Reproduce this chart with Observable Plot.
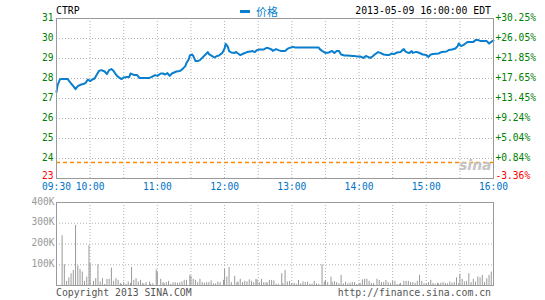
<!DOCTYPE html>
<html><head><meta charset="utf-8">
<script src="https://cdn.jsdelivr.net/npm/d3@7"></script>
<script src="https://cdn.jsdelivr.net/npm/@observablehq/plot@0.6"></script>
<style>
body{margin:0;background:#fff;}
#wrap{position:relative;width:545px;height:300px;overflow:hidden;font-family:"DejaVu Sans Mono",monospace;font-size:9.8px;background:#fff;}
.t{position:absolute;white-space:nowrap;line-height:12px;}
</style></head><body><div id="wrap"></div>
<script>
// ---- data ----
const symbol = "CTRP";
const stamp = "2013-05-09 16:00:00 EDT";
const prevClose = 23.80;
// minutes after 09:30 and price
const priceMin = [0,1,3,4,10,13,15,17,19,22,24,26,28,30,32,34,36,38,40,43,45,47,49,51,53,55,58,60,63,65,66,69,72,74,83,85,88,90,93,95,97,99,101,103,105,107,110,112,115,116,118,119,121,122,124,126,128,130,133,135,136,139,141,143,145,148,150,151,153,154,156,159,160,162,164,167,170,173,175,177,179,181,185,187,189,192,193,196,198,200,204,206,208,211,213,234,235,237,240,243,246,248,250,252,254,257,260,264,266,268,271,274,276,278,280,282,284,287,289,292,295,297,299,301,304,307,308,310,311,313,315,317,318,321,323,325,327,330,332,334,336,341,344,348,350,353,356,358,359,361,363,365,367,372,374,376,378,382,384,386,388,389,390];
const priceVal = [27.33,27.67,27.95,27.97,27.97,27.75,27.62,27.47,27.62,27.70,27.72,27.78,27.95,27.87,27.95,28.00,28.20,28.38,28.42,28.35,28.22,28.42,28.47,28.37,28.20,28.08,27.97,28.05,28.07,28.08,28.25,28.18,28.17,28.03,28.03,28.08,28.17,28.13,28.25,28.25,28.20,28.27,28.13,28.25,28.30,28.35,28.37,28.45,28.62,28.78,28.95,29.15,29.20,29.13,28.88,28.87,28.92,29.03,29.20,29.32,29.22,29.12,29.05,29.12,29.15,29.28,29.50,29.74,29.58,29.37,29.30,29.28,29.33,29.25,29.17,29.25,29.32,29.35,29.37,29.32,29.42,29.45,29.45,29.52,29.52,29.45,29.38,29.47,29.42,29.38,29.38,29.48,29.53,29.58,29.55,29.55,29.47,29.38,29.28,29.30,29.38,29.28,29.38,29.38,29.20,29.15,29.15,29.12,29.13,29.10,29.10,29.03,29.13,29.08,29.03,29.10,29.20,29.32,29.28,29.20,29.18,29.18,29.25,29.22,29.30,29.32,29.38,29.47,29.37,29.30,29.28,29.37,29.28,29.33,29.30,29.25,29.20,29.17,29.08,29.20,29.22,29.25,29.33,29.35,29.42,29.45,29.50,29.62,29.75,29.62,29.67,29.75,29.83,29.83,29.92,29.93,29.88,29.88,29.87,29.75,29.83,29.88,29.90];
// volume bars: minutes after 09:30 and volume (thousands)
const volMin = [5,7,9,11,13,15,17,19,21,23,25,27,29,30,33,35,37,39,41,43,45,47,49,51,53,55,57,58,60,62,64,66,67,69,71,73,75,77,78,80,83,84,86,89,90,93,95,96,98,100,102,104,106,108,110,112,114,116,119,120,122,124,126,128,130,132,134,136,138,140,142,144,146,149,150,152,154,156,159,161,162,164,166,168,170,172,174,176,178,179,181,183,185,187,188,190,192,194,196,198,201,202,204,206,208,210,212,214,216,218,220,222,224,226,228,230,232,234,237,239,240,242,245,246,248,250,252,254,256,258,260,262,264,266,268,270,271,273,275,277,279,281,283,286,288,290,292,294,296,298,300,302,304,306,307,310,312,314,316,318,320,322,324,326,328,330,332,334,336,338,340,341,343,345,347,349,351,353,355,357,359,360,362,364,366,368,370,372,374,376,378,380,382,384,386,388];
const volVal = [240,100,20,37,57,73,290,94,78,65,20,40,192,106,20,33,100,17,33,5,29,30,84,20,33,25,10,5,14,6,17,10,87,25,33,17,25,10,6,14,16,6,8,75,62,30,14,10,14,20,6,13,13,11,13,17,25,25,49,44,30,25,14,30,14,11,14,14,22,8,8,17,14,25,78,41,87,14,44,14,17,30,14,20,17,27,20,14,29,27,14,30,14,13,13,25,24,22,6,6,57,8,73,17,20,10,11,6,24,8,17,14,16,6,6,20,8,6,100,17,24,14,40,14,19,14,8,49,8,16,8,11,14,14,5,8,10,27,30,30,20,10,10,30,24,14,14,24,14,10,20,20,5,6,10,20,20,20,14,14,11,20,49,20,8,8,14,25,10,6,11,8,11,14,10,8,17,11,14,37,10,54,30,17,20,57,14,30,17,41,37,49,14,33,49,65];
const priceTicks = [23,24,25,26,27,28,29,30,31];
const pctLabels = ["-3.36%","+0.84%","+5.04%","+9.24%","+13.45%","+17.65%","+21.85%","+26.05%","+30.25%"];
const gridMinutes = [30,60,90,120,150,180,210,240,270,300,330,360];
const timeTicks = [0,30,90,150,210,270,330,390];
const timeLabels = ["09:30","10:00","11:00","12:00","13:00","14:00","15:00","16:00"];
const volTicks = [100,200,300,400];
const volLabels = ["100K","200K","300K","400K"];
const legendLabel = "价格";
const copyright = "Copyright 2013 SINA.COM";
const url = "http://finance.sina.com.cn";

// ---- build ----
const BLUE = "#0a7fcf", GRID = "#b4b4b4", FRAME = "#9a9a9a", GREEN = "#008000", RED = "#ff0000";
const priceData = priceMin.map((t,i)=>({t, p: priceVal[i]}));
const volData = volMin.map((t,i)=>({t, v: volVal[i]}));
const ticks = priceTicks.map((v,i)=>({v, left: String(v), right: pctLabels[i], neg: v < prevClose}));
const tlabels = timeTicks.map((t,i)=>({t, s: timeLabels[i]}));
const vlabels = volTicks.map((v,i)=>({v, s: volLabels[i]}));
const font = {fontFamily:"DejaVu Sans Mono, monospace", fontSize:"9.6px", background:"transparent", overflow:"visible"};

const price = Plot.plot({
  width: 545, height: 200,
  marginLeft: 56, marginRight: 52, marginTop: 18, marginBottom: 22,
  x: {domain:[0,390], axis:null},
  y: {domain:[23,31], axis:null},
  style: font,
  marks: [
    Plot.ruleX(gridMinutes, {stroke: GRID, strokeDasharray:"1,2"}),
    Plot.ruleY(priceTicks.slice(1,-1), {stroke: GRID, strokeDasharray:"1,2"}),
    Plot.ruleY([prevClose], {stroke:"#ff8a00", strokeDasharray:"4,3", strokeWidth:1.5}),
    Plot.line(priceData, {x:"t", y:"p", stroke: BLUE, strokeWidth: 2}),
    Plot.frame({stroke: FRAME}),
    Plot.text(ticks, {filter: d=>!d.neg, y:"v", text:"left", frameAnchor:"left", dx:-3, dy:-1, textAnchor:"end", fill: GREEN}),
    Plot.text(ticks, {filter: d=>d.neg, y:"v", text:"left", frameAnchor:"left", dx:-3, dy:-2.5, textAnchor:"end", fill: RED}),
    Plot.text(ticks, {filter: d=>!d.neg, y:"v", text:"right", frameAnchor:"right", dx:2, dy:-1, textAnchor:"start", fill: GREEN}),
    Plot.text(ticks, {filter: d=>d.neg, y:"v", text:"right", frameAnchor:"right", dx:2, dy:-2.5, textAnchor:"start", fill: RED}),
    Plot.text(tlabels, {x:"t", text:"s", frameAnchor:"bottom", dy:11, fill:"#0073c6"})
  ]
});

const vol = Plot.plot({
  width: 545, height: 100,
  marginLeft: 56, marginRight: 52, marginTop: 12, marginBottom: 5,
  x: {domain:[0,390], axis:null},
  y: {domain:[0,400], axis:null},
  style: font,
  marks: [
    Plot.ruleX(gridMinutes, {stroke: GRID, strokeDasharray:"1,2"}),
    Plot.ruleY(volTicks.slice(0,-1), {stroke: GRID, strokeDasharray:"1,2"}),
    Plot.ruleX(volData, {x:"t", y1:0, y2:"v", stroke:"#999"}),
    Plot.frame({stroke: FRAME}),
    Plot.text(vlabels, {y:"v", text:"s", frameAnchor:"left", dx:-2, dy:-1, textAnchor:"end", fill:"#999"})
  ]
});

const wrap = document.getElementById("wrap");
price.style.position = "absolute"; price.style.left = "0px"; price.style.top = "0px";
vol.style.position = "absolute"; vol.style.left = "0px"; vol.style.top = "190px";
wrap.appendChild(price);
wrap.appendChild(vol);

function addText(txt, css){
  const d = document.createElement("div");
  d.className = "t"; d.textContent = txt;
  Object.assign(d.style, css);
  wrap.appendChild(d);
  return d;
}
addText(symbol, {left:"56px", top:"5px", color:"#000"});
const dash = document.createElement("div");
Object.assign(dash.style, {position:"absolute", left:"240px", top:"10px", width:"10px", height:"3px", background: BLUE});
wrap.appendChild(dash);
addText(legendLabel, {left:"256px", top:"4px", color: BLUE, fontFamily:"'Noto Sans CJK SC', sans-serif", fontSize:"11px", lineHeight:"14px"});
addText(stamp, {right:"54px", top:"5px", color:"#000"});
addText("sina", {left:"459px", top:"157px", color:"#c4c4c4", fontFamily:"'DejaVu Sans', sans-serif", fontStyle:"italic", fontWeight:"bold", fontSize:"14px", lineHeight:"16px"});
addText(copyright, {left:"56px", top:"287px", color:"#555"});
addText(url, {right:"54px", top:"287px", color:"#555"});
</script>
</body></html>
